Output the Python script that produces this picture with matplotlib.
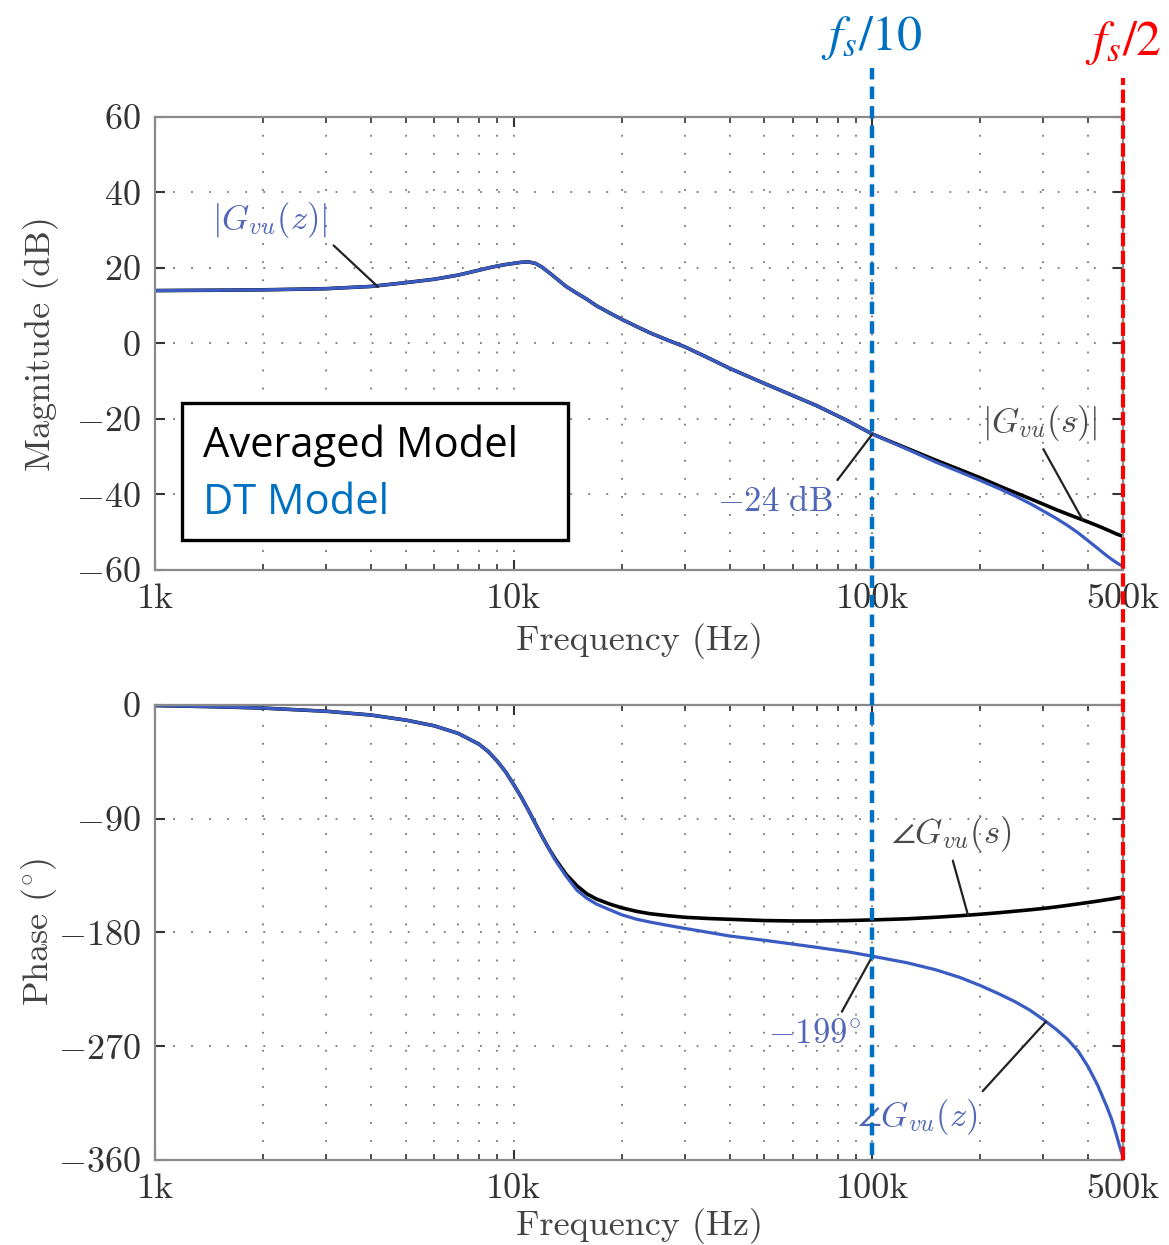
import matplotlib
matplotlib.use('Agg')
import matplotlib.pyplot as plt
import matplotlib.transforms as mtransforms
from matplotlib.patches import Rectangle
from matplotlib.lines import Line2D
from matplotlib.ticker import NullFormatter

plt.rcParams['font.family'] = 'cmr10'
plt.rcParams['mathtext.fontset'] = 'cm'
plt.rcParams['axes.formatter.use_mathtext'] = True

# values
freq = [1e3, 1.5e3, 2e3, 3e3, 4e3, 5e3, 6e3, 7e3, 8e3, 8.5e3, 9e3, 9.5e3,
        10e3, 10.5e3, 11e3, 11.5e3, 12e3, 12.5e3, 13e3, 14e3, 15e3, 16e3,
        17e3, 18.5e3, 20e3, 22e3, 24e3, 27e3, 30e3, 35e3, 40e3, 50e3, 60e3,
        70e3, 85e3, 100e3, 125e3, 150e3, 175e3, 200e3, 225e3, 250e3, 275e3,
        300e3, 325e3, 350e3, 375e3, 400e3, 425e3, 450e3, 465e3, 480e3, 490e3,
        500e3]

mag_avg = [14.0, 14.1, 14.2, 14.5, 15.1, 16.1, 17.0, 18.1, 19.4, 20.0, 20.5, 20.9,
           21.2, 21.5, 21.6, 21.2, 20.2, 18.9, 17.6, 15.1, 13.3, 11.7,
           10.0, 8.1, 6.4, 4.5, 2.8, 0.8, -0.9, -3.9, -6.6, -10.6, -13.8,
           -16.5, -20.4, -24.0, -27.8, -30.9, -33.4, -35.6, -37.7, -39.5, -41.1,
           -42.6, -44.0, -45.2, -46.3, -47.3, -48.3, -49.3, -49.9, -50.5, -50.8,
           -51.1]
mag_dt = [14.0, 14.1, 14.2, 14.5, 15.1, 16.1, 17.0, 18.1, 19.4, 20.0, 20.5, 20.9,
          21.2, 21.5, 21.6, 21.2, 20.2, 18.9, 17.6, 15.1, 13.3, 11.7,
          10.0, 8.1, 6.4, 4.5, 2.8, 0.8, -0.9, -3.9, -6.6, -10.6, -13.8,
          -16.5, -20.4, -24.0, -28.0, -31.4, -34.0, -36.3, -38.4, -40.4, -42.4,
          -44.4, -46.3, -48.2, -50.2, -52.3, -54.3, -56.2, -57.2, -58.1, -58.6,
          -59.1]

phase_avg = [-0.5, -1.5, -2.5, -5, -8, -12, -16.5, -22.5, -31, -37, -44.5, -53,
             -63, -73, -83.5, -94, -104, -113, -121, -134, -143, -149.5,
             -153.5, -157.5, -160.5, -163.3, -165.2, -166.8, -168, -169, -169.6, -170.6, -170.9,
             -170.9, -170.6, -170.1, -169.2, -168, -166.8, -165.6, -164.4, -163.2, -162.1,
             -161, -159.8, -158.6, -157.4, -156.3, -155.2, -154.1, -153.5, -152.8, -152.4,
             -152]
phase_dt = [-0.5, -1.5, -2.5, -5, -8, -12, -16.5, -22.5, -31, -37, -44.5, -53,
            -63, -73, -83.5, -94, -104, -113, -122, -135.5, -146.5, -153,
            -157.5, -162, -166, -169.5, -171.8, -174.5, -176.8, -180, -182.8, -186.2, -189.2,
            -191.8, -195.2, -198.8, -204, -209.5, -215.5, -222, -228.5, -234.8, -241.5,
            -249, -256.5, -264.5, -274, -286.5, -301, -317.5, -328, -341, -350,
            -358]

x_ticks = [1e3, 1e4, 1e5, 5e5]
x_ticklabels = ['1k', '10k', '100k', '500k']
mag_ticks = [-60, -40, -20, 0, 20, 40, 60]
phase_ticks = [-360, -270, -180, -90, 0]

fs = 1e6
marker_freqs = [fs / 10, fs / 2]

c_avg = 'black'
c_dt = '#3a5bc2'
c_lab_dt = '#5066b8'
c_lab_avg = '#4a4a4a'


def style_axes(ax, yticks):
    ax.set_xscale('log')
    ax.set_xlim(1e3, 5e5)
    ax.set_ylim(yticks[0], yticks[-1])
    minor = [m * 10 ** e for e in (3, 4, 5) for m in range(2, 10) if m * 10 ** e < 5e5]
    ax.set_xticks(x_ticks)
    ax.set_xticklabels(x_ticklabels)
    ax.set_xticks(minor, minor=True)
    ax.xaxis.set_minor_formatter(NullFormatter())
    ax.set_yticks(yticks)
    ax.set_yticklabels(['$%d$' % v for v in yticks])
    ax.tick_params(which='both', direction='in', top=True, right=True,
                   colors='#333333', labelsize=26)
    ax.tick_params(which='major', length=7, width=1.5, pad=10)
    ax.tick_params(which='minor', length=4, width=1.2)
    ax.grid(True, which='both', axis='x', color='#777777',
            linestyle=(0, (1, 9)), linewidth=1.3)
    ax.grid(True, which='major', axis='y', color='#777777',
            linestyle=(0, (1, 9)), linewidth=1.3)
    for sp in ax.spines.values():
        sp.set_color('#8a8a8a')
        sp.set_linewidth(1.6)


fig = plt.figure(figsize=(11.69, 12.45), dpi=100)
ax1 = fig.add_axes([0.1326, 0.5422, 0.8281, 0.3639])
ax2 = fig.add_axes([0.1326, 0.0683, 0.8281, 0.3655])

style_axes(ax1, mag_ticks)
style_axes(ax2, phase_ticks)

ax1.plot(freq, mag_avg, color=c_avg, lw=2.6)
ax1.plot(freq, mag_dt, color=c_dt, lw=2.3)
ax2.plot(freq, phase_avg, color=c_avg, lw=2.6)
ax2.plot(freq, phase_dt, color=c_dt, lw=2.3)

ax1.set_xlabel('Frequency (Hz)', fontsize=26, color='#444444')
ax1.set_ylabel('Magnitude (dB)', fontsize=26, color='#444444')
ax2.set_xlabel('Frequency (Hz)', fontsize=26, color='#444444')
ax2.set_ylabel(r'Phase $(^{\circ})$', fontsize=26, color='#444444')
ax1.xaxis.set_label_coords(0.5, -0.118)
ax2.xaxis.set_label_coords(0.5, -0.105)
ax1.yaxis.set_label_coords(-0.099, 0.5)
ax2.yaxis.set_label_coords(-0.099, 0.5)


def callout(ax, text, xy, xytext, color, relpos):
    ax.annotate(text, xy=xy, xytext=xytext, textcoords='data',
                ha='center', va='center', fontsize=25, color=color,
                arrowprops=dict(arrowstyle='-', color='#222222', lw=1.6,
                                shrinkA=3, shrinkB=0, relpos=relpos))


callout(ax1, r'$|G_{vu}(z)|$', (4184, 15.0), (2093, 32.7), c_lab_dt, (1, 0))
callout(ax1, r'$|G_{vu}(s)|$', (386e3, -46.8), (293e3, -21.0), c_lab_avg, (0.5, 0))
callout(ax1, r'$-24\ \mathrm{dB}$', (1e5, -24), (53.5e3, -42.0), c_lab_dt, (1, 1))
callout(ax2, r'$\angle G_{vu}(s)$', (184.8e3, -166.3), (165.6e3, -102), c_lab_avg, (0.5, 0))
callout(ax2, r'$-199^{\circ}$', (1e5, -198.8), (69.2e3, -260.3), c_lab_dt, (0.75, 1))
callout(ax2, r'$\angle G_{vu}(z)$', (305e3, -250.5), (133.2e3, -326), c_lab_dt, (1, 1))

# legend box
ax1.add_patch(Rectangle((0.0279, 0.0662), 0.3988, 0.3025, transform=ax1.transAxes,
                        facecolor='white', edgecolor='black', lw=2.4, zorder=5))
ax1.text(0.0496, 0.2738, 'Averaged Model', transform=ax1.transAxes, ha='left',
         va='center', fontsize=30, family='Open Sans', color='black', zorder=6)
ax1.text(0.0496, 0.1479, 'DT Model', transform=ax1.transAxes, ha='left',
         va='center', fontsize=30, family='Open Sans', color='#0070c0', zorder=6)

# fs/10 and fs/2 markers across both panels
blend = mtransforms.blended_transform_factory(ax1.transData, fig.transFigure)
fig.add_artist(Line2D([marker_freqs[0]] * 2, [0.0723, 0.9454], transform=blend,
                      color='#0070c0', lw=3.2, dashes=(2.8, 1.6)))
fig.add_artist(Line2D([marker_freqs[1]] * 2, [0.0683, 0.9373], transform=blend,
                      color='#ff0000', lw=3.0, dashes=(3.2, 1.1)))
fig.text(marker_freqs[0], 0.96, r'$f_s/10$', transform=blend, ha='center',
         va='baseline', fontsize=36, color='#0070c0', math_fontfamily='stix')
fig.text(marker_freqs[1], 0.956, r'$f_s/2$', transform=blend, ha='center',
         va='baseline', fontsize=36, color='#ff0000', math_fontfamily='stix')

fig.savefig('out.png', dpi=100)
